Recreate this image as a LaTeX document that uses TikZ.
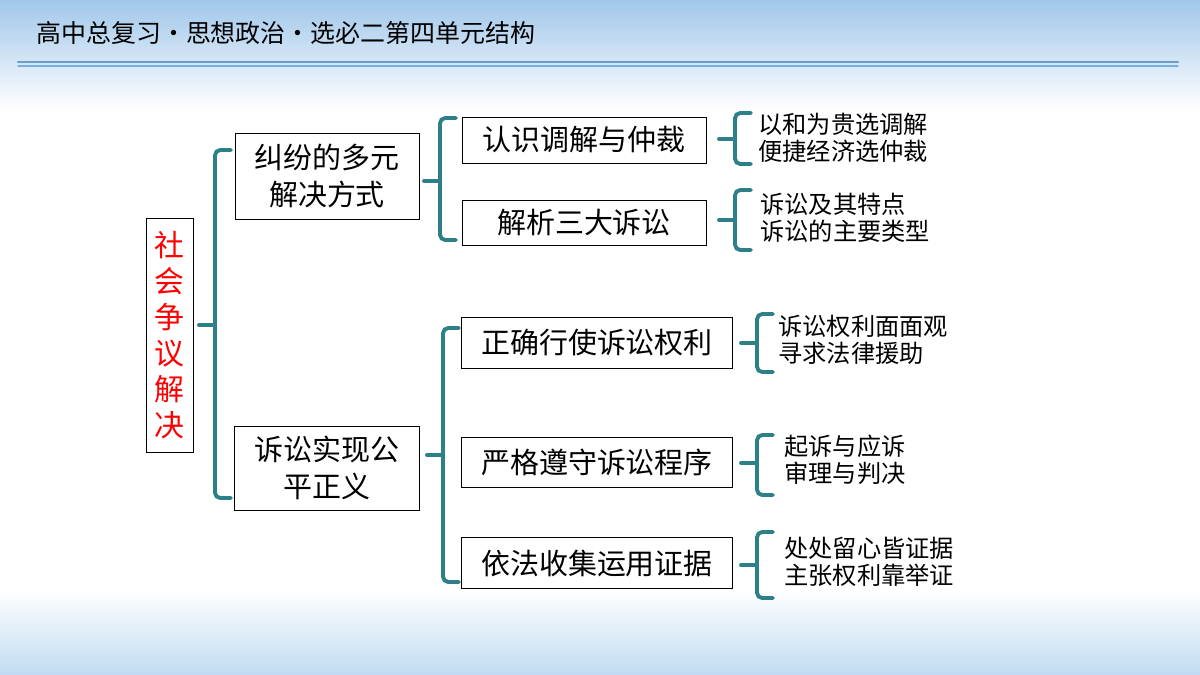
\documentclass[tikz,border=0pt]{standalone}
\usepackage{fontspec}
\setmainfont{Noto Sans CJK SC}
\usetikzlibrary{positioning}
\definecolor{brk}{RGB}{46,128,136}
\definecolor{hdr}{RGB}{120,175,225}
\begin{document}
\begin{tikzpicture}[x=0.02cm,y=-0.02cm,line cap=round,
	box/.style={draw,fill=white,inner sep=0pt,font=\fontsize{16.5}{21}\selectfont,align=center},
	leaf/.style={anchor=west,align=left,inner sep=0pt,font=\fontsize{13.8}{15.5}\selectfont},
	brace/.style={draw=brk,line width=2.2pt,rounded corners=3pt}]
	% background
	\useasboundingbox (0,0) rectangle (1200,674);
	\shade[top color=hdr!70,bottom color=white] (0,0) rectangle (1200,110);
	\fill[white] (0,110) rectangle (1200,590);
	\shade[top color=white,bottom color=hdr!45] (0,590) rectangle (1200,674);
	\draw[hdr!90!black,line width=1.2pt] (18,62) -- (1178,62);
	\draw[hdr,line width=0.6pt] (18,66) -- (1178,66);
	\node[anchor=west,inner sep=0pt,font=\fontsize{14.2}{16}\selectfont] (title) at (36,33) {高中总复习·思想政治·选必二第四单元结构};
	% nodes
	\node[box,text width=0.94cm,minimum height=4.68cm,text=red,font=\fontsize{17}{20.5}\selectfont] (root) at (169.5,335) {社\\会\\争\\议\\解\\决};
	\node[box,minimum width=3.68cm,minimum height=1.72cm] (dm) at (327,176) {纠纷的多元\\解决方式};
	\node[box,minimum width=3.7cm,minimum height=1.68cm] (ss) at (327,468) {诉讼实现公\\平正义};
	\node[box,minimum width=4.88cm,minimum height=0.92cm] (tj) at (584,140) {认识调解与仲裁};
	\node[box,minimum width=4.88cm,minimum height=0.9cm] (sd) at (584,223) {解析三大诉讼};
	\node[box,minimum width=5.42cm,minimum height=1.02cm] (ql) at (597,343) {正确行使诉讼权利};
	\node[box,minimum width=5.42cm,minimum height=1.0cm] (cx) at (597,462) {严格遵守诉讼程序};
	\node[box,minimum width=5.42cm,minimum height=1.02cm] (zj) at (597,563) {依法收集运用证据};
	\node[leaf] (l1) at (758,138) {以和为贵选调解\\便捷经济选仲裁};
	\node[leaf] (l2) at (760,218) {诉讼及其特点\\诉讼的主要类型};
	\node[leaf] (l3) at (778,340) {诉讼权利面面观\\寻求法律援助};
	\node[leaf] (l4) at (784,460) {起诉与应诉\\审理与判决};
	\node[leaf] (l5) at (784,562) {处处留心皆证据\\主张权利靠举证};
	% braces
	\newcommand\brc[4]{%
		\draw[brace] (#1+16,#2) -- (#1,#2) -- (#1,#3) -- (#1+16,#3);
		\draw[brace] (#1,#4) -- (#1-16,#4);}
	\brc{215}{150}{498}{325}
	\brc{440}{118}{240}{181}
	\brc{443}{328}{582}{455}
	\brc{735}{113}{164}{139}
	\brc{735}{190}{250}{220}
	\brc{757}{314}{372}{343}
	\brc{757}{435}{495}{463}
	\brc{757}{532}{598}{565}
\end{tikzpicture}
\end{document}
